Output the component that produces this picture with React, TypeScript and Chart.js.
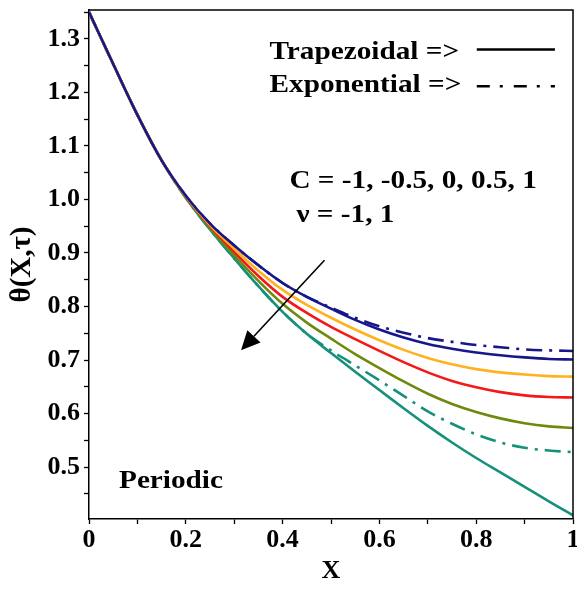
import React, { useEffect, useRef } from "react";
import { Chart, registerables } from "chart.js";

Chart.register(...registerables);

// ---- data ----
const xValues = [0, 0.05, 0.1, 0.15, 0.2, 0.25, 0.3, 0.35, 0.4, 0.45, 0.5, 0.55, 0.6, 0.65, 0.7, 0.75, 0.8, 0.85, 0.9, 0.95, 1.0];

const trapBlue = [1.35, 1.253, 1.158, 1.073, 1.007, 0.955, 0.914, 0.877, 0.844, 0.818, 0.796, 0.775, 0.757, 0.742, 0.730, 0.721, 0.714, 0.709, 0.705, 0.702, 0.701];
const trapOrange = [1.35, 1.253, 1.158, 1.073, 1.006, 0.952, 0.908, 0.867, 0.831, 0.803, 0.779, 0.757, 0.737, 0.719, 0.704, 0.692, 0.683, 0.677, 0.673, 0.670, 0.669];
const trapRed = [1.35, 1.253, 1.158, 1.073, 1.005, 0.950, 0.902, 0.857, 0.818, 0.788, 0.762, 0.739, 0.717, 0.696, 0.677, 0.661, 0.649, 0.640, 0.634, 0.631, 0.630];
const trapOlive = [1.35, 1.253, 1.158, 1.073, 1.004, 0.947, 0.896, 0.848, 0.805, 0.770, 0.740, 0.711, 0.685, 0.660, 0.637, 0.618, 0.603, 0.591, 0.582, 0.576, 0.573];
const trapTeal = [1.35, 1.253, 1.158, 1.073, 1.003, 0.944, 0.890, 0.838, 0.790, 0.749, 0.713, 0.678, 0.644, 0.610, 0.577, 0.546, 0.517, 0.490, 0.463, 0.436, 0.410];
const expBlue = [1.35, 1.253, 1.158, 1.073, 1.007, 0.955, 0.914, 0.877, 0.844, 0.818, 0.798, 0.779, 0.763, 0.751, 0.741, 0.734, 0.728, 0.724, 0.720, 0.718, 0.717];
const expTeal = [1.35, 1.253, 1.158, 1.073, 1.003, 0.944, 0.890, 0.838, 0.790, 0.749, 0.718, 0.690, 0.662, 0.633, 0.604, 0.581, 0.561, 0.546, 0.536, 0.531, 0.528];

const xTickValues = [0, 0.1, 0.2, 0.3, 0.4, 0.5, 0.6, 0.7, 0.8, 0.9, 1];
const xTickLabels = ["0", "0.2", "0.4", "0.6", "0.8", "1"];
const yTickValues = [0.45, 0.5, 0.55, 0.6, 0.65, 0.7, 0.75, 0.8, 0.85, 0.9, 0.95, 1.0, 1.05, 1.1, 1.15, 1.2, 1.25, 1.3, 1.35];
const yTickLabels = ["0.5", "0.6", "0.7", "0.8", "0.9", "1.0", "1.1", "1.2", "1.3"];

// annotation texts (positions in data units)
const noteTexts = ["Trapezoidal =>", "Exponential =>", "C = -1, -0.5, 0, 0.5, 1", "\u03bd = -1, 1", "Periodic"];
const noteX = [0.373, 0.373, 0.414, 0.4286, 0.062];
const noteY = [1.262, 1.2, 1.021, 0.9574, 0.4608];

// legend samples (data units)
const sampleX = [0.8012, 0.9627];
const sampleY = [1.2804, 1.2114];

// arrow start / tip (data units)
const arrowX = [0.4865, 0.3141];
const arrowY = [0.8865, 0.7184];

const SERIF = "'Liberation Serif', 'Times New Roman', Times, serif";
const SOLID_DASH: number[] = [];
const DASHDOT = [16, 7, 3, 7];

function series(vals: number[]) {
  return xValues.map((x, i) => ({ x, y: vals[i] }));
}

const annotPlugin = {
  id: "annot",
  afterDraw(chart: any) {
    const { ctx, chartArea: a, scales } = chart;
    const xs = scales.x;
    const ys = scales.y;
    ctx.save();
    ctx.strokeStyle = "#000";
    ctx.lineWidth = 1.5;
    ctx.setLineDash([]);
    ctx.beginPath();
    ctx.moveTo(a.left, a.top);
    ctx.lineTo(a.right, a.top);
    ctx.lineTo(a.right, a.bottom);
    ctx.stroke();

    ctx.fillStyle = "#000";
    ctx.font = `bold 25px ${SERIF}`;
    ctx.textBaseline = "alphabetic";
    ctx.textAlign = "left";
    noteTexts.forEach((t, i) => {
      const px = xs.getPixelForValue(noteX[i]);
      const py = ys.getPixelForValue(noteY[i]);
      ctx.save();
      ctx.translate(px, py);
      ctx.scale(1.17, 1);
      ctx.fillText(t, 0, 0);
      ctx.restore();
    });

    const sx0 = xs.getPixelForValue(sampleX[0]);
    const sx1 = xs.getPixelForValue(sampleX[1]);
    ctx.lineWidth = 2.5;
    ctx.setLineDash(SOLID_DASH);
    ctx.beginPath();
    const sy0 = ys.getPixelForValue(sampleY[0]);
    ctx.moveTo(sx0, sy0);
    ctx.lineTo(sx1, sy0);
    ctx.stroke();
    ctx.setLineDash([13, 10, 3, 11]);
    ctx.beginPath();
    const sy1 = ys.getPixelForValue(sampleY[1]);
    ctx.moveTo(sx0, sy1);
    ctx.lineTo(sx1, sy1);
    ctx.stroke();
    ctx.setLineDash([]);

    const ax0 = xs.getPixelForValue(arrowX[0]);
    const ay0 = ys.getPixelForValue(arrowY[0]);
    const ax1 = xs.getPixelForValue(arrowX[1]);
    const ay1 = ys.getPixelForValue(arrowY[1]);
    const ang = Math.atan2(ay1 - ay0, ax1 - ax0);
    const headLen = 19;
    const headHalf = 9;
    const bx = ax1 - headLen * Math.cos(ang);
    const by = ay1 - headLen * Math.sin(ang);
    ctx.lineWidth = 1.6;
    ctx.beginPath();
    ctx.moveTo(ax0, ay0);
    ctx.lineTo(bx, by);
    ctx.stroke();
    ctx.beginPath();
    ctx.moveTo(ax1, ay1);
    ctx.lineTo(bx + headHalf * Math.sin(ang), by - headHalf * Math.cos(ang));
    ctx.lineTo(bx - headHalf * Math.sin(ang), by + headHalf * Math.cos(ang));
    ctx.closePath();
    ctx.fill();
    ctx.restore();
  },
};

export default function App() {
  const canvasRef = useRef<HTMLCanvasElement | null>(null);

  useEffect(() => {
    if (!canvasRef.current) return;
    const tickFont = { family: SERIF, weight: "bold" as const, size: 26 };
    const lw = 2.6;
    const mk = (vals: number[], color: string, dash: number[]) => ({
      data: series(vals),
      borderColor: color,
      backgroundColor: color,
      borderWidth: lw,
      borderDash: dash,
      pointRadius: 0,
      fill: false,
      cubicInterpolationMode: "monotone" as const,
    });
    const fmtX = (v: number) => String(Number(Number(v).toFixed(2)));
    const fmtY = (v: number) => Number(v).toFixed(2).replace(/0$/, "");
    const chart = new Chart(canvasRef.current, {
      type: "line",
      data: {
        datasets: [
          mk(trapBlue, "#17178c", SOLID_DASH),
          mk(trapOrange, "#FFB11F", SOLID_DASH),
          mk(trapRed, "#F41818", SOLID_DASH),
          mk(trapOlive, "#6D8A0C", SOLID_DASH),
          mk(trapTeal, "#15907A", SOLID_DASH),
          mk(expBlue, "#17178c", DASHDOT),
          mk(expTeal, "#15907A", DASHDOT),
        ],
      },
      options: {
        responsive: false,
        animation: false,
        maintainAspectRatio: false,
        layout: { padding: { left: 0, right: 27, top: 10, bottom: 0 } },
        plugins: { legend: { display: false }, tooltip: { enabled: false } },
        scales: {
          x: {
            type: "linear",
            min: 0,
            max: 1,
            bounds: "data",
            afterBuildTicks: (s: any) => {
              s.ticks = xTickValues.map((value) => ({ value }));
            },
            ticks: {
              autoSkip: false,
              maxRotation: 0,
              minRotation: 0,
              padding: 1,
              color: "#000",
              font: tickFont,
              callback: (v: any) => {
                const s = fmtX(v);
                return xTickLabels.includes(s) ? s : "";
              },
            },
            grid: { drawOnChartArea: false, drawTicks: true, tickLength: 5, tickColor: "#000", tickWidth: 1.3 },
            border: { display: true, color: "#000", width: 1.5 },
            title: { display: true, text: "X", color: "#000", font: { family: SERIF, weight: "bold", size: 26 }, padding: { top: 0, bottom: 3 } },
            afterFit: (s: any) => {
              s.height = 71;
              s.paddingLeft = 0;
              s.paddingRight = 0;
            },
          },
          y: {
            type: "linear",
            min: 0.403,
            max: 1.354,
            bounds: "data",
            afterBuildTicks: (s: any) => {
              s.ticks = yTickValues.map((value) => ({ value }));
            },
            ticks: {
              autoSkip: false,
              padding: 4,
              color: "#000",
              font: tickFont,
              callback: (v: any) => {
                const s = fmtY(v);
                return yTickLabels.includes(s) ? s : "";
              },
            },
            grid: { drawOnChartArea: false, drawTicks: true, tickLength: 5, tickColor: "#000", tickWidth: 1.3 },
            border: { display: true, color: "#000", width: 1.5 },
            title: { display: true, text: "\u03b8(X,\u03c4)", color: "#000", font: { family: SERIF, weight: "bold", size: 29 }, padding: { top: 5, bottom: 0 } },
            afterFit: (s: any) => {
              s.width = 89;
              s.paddingTop = 0;
              s.paddingBottom = 0;
            },
          },
        },
      } as any,
      plugins: [annotPlugin],
    });
    return () => chart.destroy();
  }, []);

  return (
    <div style={{ position: "fixed", left: 0, top: 0, width: 577, height: 590, overflow: "hidden", background: "#fff" }}>
      <canvas ref={canvasRef} width={600} height={590} style={{ display: "block" }} />
    </div>
  );
}
